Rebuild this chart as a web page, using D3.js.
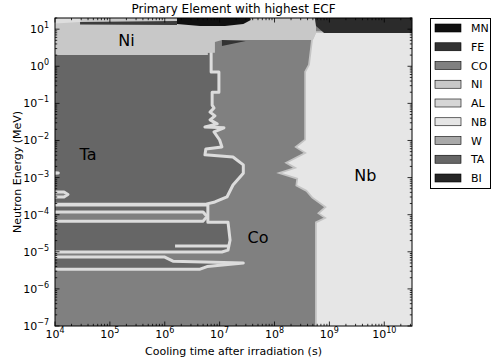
<!DOCTYPE html>
<html><head><meta charset="utf-8">
<script src="https://cdn.jsdelivr.net/npm/d3@7"></script>
<style>body{margin:0;background:#fff}svg{display:block;font-family:"DejaVu Sans",sans-serif}</style>
</head><body><svg id="c" width="492" height="360"></svg>
<script>
// ---- data ----
const elements = ["MN","FE","CO","NI","AL","NB","W","TA","BI"];
const elementColors = ["#101010","#333333","#808080","#c8c8c8","#d6d6d6","#e6e6e6","#a9a9a9","#666666","#262626"];
const timeDomain = [1e4, 3.2e10];
const energyDomain = [1e-7, 20];
const xTickValues = [1e4,1e5,1e6,1e7,1e8,1e9,1e10];
const yTickValues = [1e-7,1e-6,1e-5,1e-4,1e-3,1e-2,1e-1,1e0,1e1];
// region boundaries as [cooling time (s), neutron energy (MeV)]
const nbRegion = [[5.7e8,7.9],[5e10,7.9],[5e10,5e-8],[5.9e8,5e-8],[5.9e8,6.0e-5],[9.0e8,8.1e-5],[6.7e8,1.1e-4],[9.0e8,1.6e-4],[5.0e8,3.0e-4],[3.9e8,4.6e-4],[2.6e8,6.3e-4],[2.7e8,9.7e-4],[1.37e8,1.33e-3],[2.6e8,1.8e-3],[1.76e8,2.5e-3],[3.9e8,4.6e-3],[2.6e8,6.7e-3],[3.75e8,1.03e-2],[3.75e8,0.70],[4.4e8,1.08],[5.0e8,5.1]];
const taMain = [[7e3,2.6],[7.0e6,2.6],[7.0e6,0.70],[9.7e6,0.70],[9.7e6,0.20],[7.3e6,0.20],[7.3e6,0.090],[7.9e6,0.075],[6.7e6,0.058],[8.2e6,0.046],[6.7e6,0.036],[9.0e6,0.028],[5.4e6,0.023],[1.2e7,0.022],[7.9e6,0.017],[1.0e7,0.0103],[1.1e7,0.0067],[5.6e6,0.0059],[5.4e6,0.0041],[1.75e7,0.0036],[2.7e7,0.0022],[2.7e7,0.0013],[1.75e7,6.3e-4],[1.36e7,3.0e-4],[8.2e6,2.2e-4],[5.4e6,1.9e-4],[7e3,1.9e-4]];
const taLowerA = [[7e3,1.82e-4],[6.1e6,1.82e-4],[6.1e6,6.3e-5],[1.42e7,6.3e-5],[1.55e7,2.07e-5],[1.42e7,1.11e-5],[1.1e7,9.9e-6],[7e3,9.9e-6]];
const taLowerB = [[7e3,7.2e-6],[1.0e6,7.2e-6],[1.41e6,5.6e-6],[2.7e7,5.0e-6],[5.9e6,4.0e-6],[4.4e6,3.4e-6],[7e3,3.4e-6]];
const coIslandA = [[7e3,1.18e-4],[5.0e6,1.18e-4],[5.9e6,8.9e-5],[5.0e6,6.7e-5],[7e3,6.7e-5]];
const coIslandB = [[7e3,1.42e-3],[1.15e4,1.33e-3],[7e3,1.25e-3]];
const coIslandC = [[7e3,4.1e-4],[1.46e4,4.1e-4],[1.72e4,3.5e-4],[1.46e4,3.0e-4],[7e3,3.0e-4]];
const coRidge = [[1.42e7,1.43e-5],[1.54e6,1.43e-5]];
const niRegion = [[7e3,30],[5.7e8,30],[5.7e8,7.9],[5.0e8,5.1],[1.1e7,5.1],[8.2e6,4.5],[8.2e6,2.3],[6.1e6,2.3],[6.1e6,2.0],[7e3,2.0]];
const feTop = [[5.2e8,30],[5e10,30],[5e10,7.9],[8.0e8,7.9],[5.7e8,12.2]];
const feWedge = [[1.1e7,5.1],[3.0e7,4.8],[1.1e7,3.5]];
const mnBlob = [[1.67e6,30],[3.3e7,30],[3.7e7,17.7],[2.7e7,13.8],[1.25e7,12.2],[4.4e6,12.2],[1.67e6,13.8]];
const mnStreak = [[2.86e4,15.6],[1.67e6,16.6],[1.67e6,12.9],[2.86e4,13.4]];
const alWedge = [[7e3,30],[3.5e4,30],[2.86e4,15.6],[7e3,13.8]];
const regionLabels = [["Ni",2.0e5,5.1],["Ta",4.0e4,4.3e-3],["Co",5.0e7,2.5e-5],["Nb",4.5e9,1.17e-3]];

// ---- drawing ----
const col = name => elementColors[elements.indexOf(name)];
const L=55,R=412,T=18,B=326;
const x = d3.scaleLog().domain(timeDomain).range([L,R]);
const y = d3.scaleLog().domain(energyDomain).range([B,T]);
const line = d3.line().x(d=>x(d[0])).y(d=>y(d[1]));
const poly = d => line(d)+"Z";
const svg = d3.select("#c");
svg.append("defs").append("clipPath").attr("id","clip").append("rect")
  .attr("x",L).attr("y",T).attr("width",R-L).attr("height",B-T);
const g = svg.append("g").attr("clip-path","url(#clip)");
g.append("rect").attr("x",L).attr("y",T).attr("width",R-L).attr("height",B-T).attr("fill",col("CO"));
g.append("path").attr("d",poly(nbRegion)).attr("fill",col("NB"))
  .attr("stroke","#c4c4c4").attr("stroke-width",3.5).style("paint-order","stroke");
const edge = "#dcdcdc";
[taMain,taLowerA,taLowerB].forEach(p=>g.append("path").attr("d",poly(p)).attr("fill",col("TA")).attr("stroke",edge).attr("stroke-width",3).attr("stroke-linejoin","round"));
[coIslandA,coIslandB,coIslandC].forEach(p=>g.append("path").attr("d",poly(p)).attr("fill",col("CO")).attr("stroke",edge).attr("stroke-width",3).attr("stroke-linejoin","round"));
g.append("path").attr("d",line(coRidge)).attr("fill","none").attr("stroke",edge).attr("stroke-width",3);
g.append("path").attr("d",poly(niRegion)).attr("fill",col("NI"));
g.append("path").attr("d",poly(alWedge)).attr("fill","#dedede");
g.append("path").attr("d",poly(feTop)).attr("fill","#2b2b2b");
g.append("path").attr("d",poly(feWedge)).attr("fill",col("FE"));
g.append("path").attr("d",poly(mnStreak)).attr("fill","#3c3c3c");
g.append("path").attr("d",poly(mnBlob)).attr("fill",col("MN"));
regionLabels.forEach(([t,tv,ev])=>g.append("text").attr("x",x(tv)).attr("y",y(ev)).attr("dy","0.36em")
  .attr("text-anchor","middle").attr("font-size",16).attr("fill","#000").text(t));

// frame
svg.append("rect").attr("x",L).attr("y",T).attr("width",R-L).attr("height",B-T)
  .attr("fill","none").attr("stroke","#000").attr("stroke-width",1);
// ticks
const tk = svg.append("g").attr("stroke","#000").attr("stroke-width",0.8);
const isMajor = v => Math.abs(Math.log10(v)-Math.round(Math.log10(v)))<1e-9;
x.ticks().forEach(v=>{const X=x(v), len=isMajor(v)?4.5:2.2;
  tk.append("line").attr("x1",X).attr("x2",X).attr("y1",B).attr("y2",B-len);
  tk.append("line").attr("x1",X).attr("x2",X).attr("y1",T).attr("y2",T+len);});
y.ticks().forEach(v=>{const Y=y(v), len=isMajor(v)?4.5:2.2;
  tk.append("line").attr("y1",Y).attr("y2",Y).attr("x1",L).attr("x2",L+len);
  tk.append("line").attr("y1",Y).attr("y2",Y).attr("x1",R).attr("x2",R-len);});
const expo = v => String(Math.round(Math.log10(v))).replace("-","\u2212");
xTickValues.forEach(v=>{const t=svg.append("text").attr("x",x(v)).attr("y",338).attr("text-anchor","middle").attr("font-size",11);
  t.append("tspan").text("10"); t.append("tspan").attr("dy",-5).attr("font-size",8).text(expo(v));});
yTickValues.forEach(v=>{const t=svg.append("text").attr("x",49).attr("y",y(v)+4).attr("text-anchor","end").attr("font-size",11);
  t.append("tspan").text("10"); t.append("tspan").attr("dy",-5).attr("font-size",8).text(expo(v));});
// titles
svg.append("text").attr("x",(L+R)/2).attr("y",13).attr("text-anchor","middle").attr("font-size",12).text("Primary Element with highest ECF");
svg.append("text").attr("x",(L+R)/2).attr("y",355).attr("text-anchor","middle").attr("font-size",11).text("Cooling time after irradiation (s)");
svg.append("text").attr("transform",`translate(21,${(T+B)/2}) rotate(-90)`).attr("text-anchor","middle").attr("font-size",11).text("Neutron Energy (MeV)");
// legend
const lg = svg.append("g");
lg.append("rect").attr("x",430.5).attr("y",18.5).attr("width",60).attr("height",170).attr("fill","#fff").attr("stroke","#000");
elements.forEach((e,i)=>{const cy=28+i*18.75;
  lg.append("rect").attr("x",435).attr("y",cy-4).attr("width",26).attr("height",8).attr("fill",elementColors[i]).attr("stroke","#000").attr("stroke-width",0.6);
  lg.append("text").attr("x",471).attr("y",cy+4).attr("font-size",11).text(e);});
</script></body></html>
